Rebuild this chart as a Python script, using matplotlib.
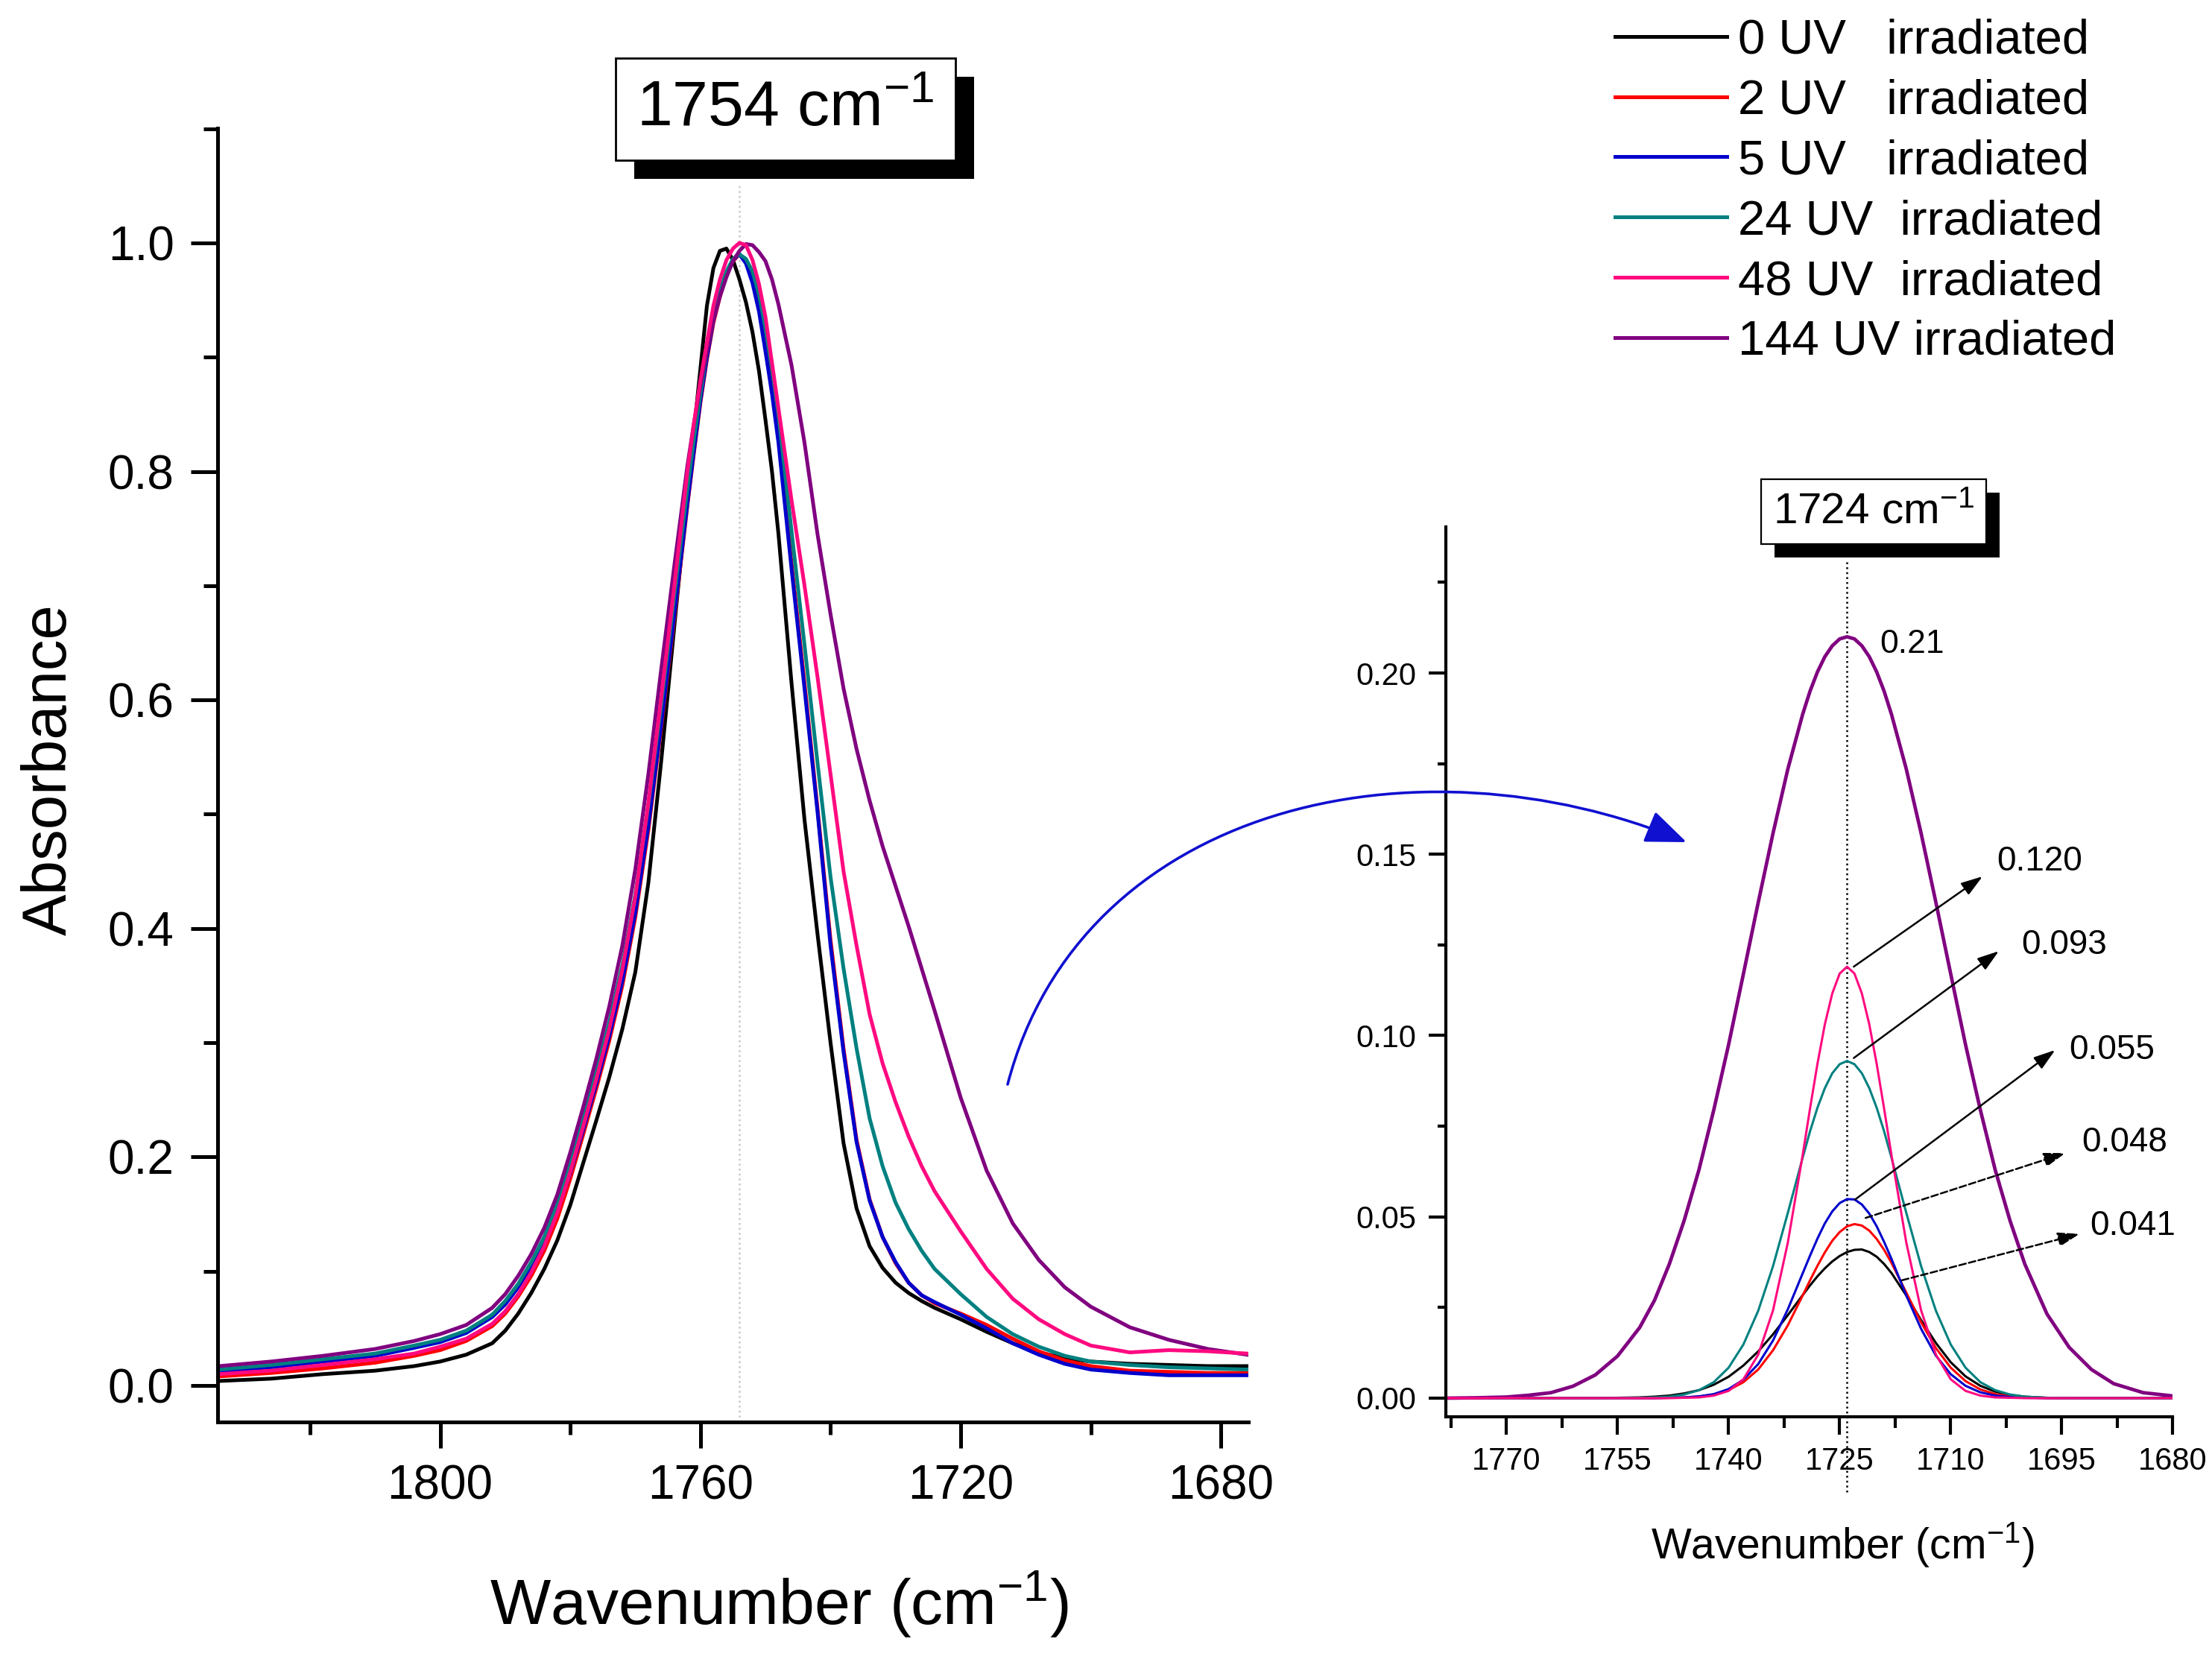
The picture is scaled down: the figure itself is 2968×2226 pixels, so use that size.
import matplotlib
matplotlib.use('Agg')
import matplotlib.pyplot as plt
import matplotlib.patheffects as pe
from matplotlib.patches import FancyArrowPatch
from matplotlib.path import Path
from matplotlib.ticker import MultipleLocator, FormatStrFormatter

plt.rcParams['font.family'] = ['Liberation Sans', 'DejaVu Sans']
plt.rcParams['mathtext.default'] = 'regular'

# series labels and colours
labels = ['0 UV   irradiated', '2 UV   irradiated', '5 UV   irradiated',
          '24 UV  irradiated', '48 UV  irradiated', '144 UV irradiated']
colors = ['#000000', '#ff0000', '#0000cc', '#008080', '#ff0a80', '#800080']

# full carbonyl band, normalised absorbance (left panel)
wn_full = [1834, 1826, 1818, 1810, 1804, 1800, 1796,
           1792, 1790, 1788, 1786, 1784, 1782, 1780, 1778, 1776, 1774, 1772, 1770, 1768, 1766, 1764,
           1762, 1761, 1760, 1759, 1758, 1757, 1756, 1755, 1754, 1753, 1752, 1751, 1750, 1749, 1748,
           1746, 1744, 1742, 1740, 1738, 1736, 1734, 1732, 1730, 1728, 1726, 1724,
           1720, 1716, 1712, 1708, 1704, 1700, 1694, 1688, 1682, 1676]
full_0uv = [0.004, 0.006, 0.010, 0.013, 0.017, 0.021, 0.027,
            0.037, 0.048, 0.063, 0.081, 0.102, 0.127, 0.158, 0.195, 0.232, 0.270, 0.312, 0.362, 0.440, 0.548, 0.665,
            0.780, 0.835, 0.890, 0.945, 0.978, 0.993, 0.995, 0.985, 0.968, 0.948, 0.922, 0.888, 0.845, 0.800, 0.745,
            0.615, 0.495, 0.395, 0.300, 0.212, 0.155, 0.122, 0.103, 0.090, 0.081, 0.074, 0.068,
            0.058, 0.047, 0.037, 0.029, 0.024, 0.021, 0.019, 0.018, 0.017, 0.017]
full_2uv = [0.008, 0.011, 0.015, 0.020, 0.026, 0.031, 0.039,
            0.052, 0.063, 0.078, 0.096, 0.118, 0.146, 0.181, 0.220, 0.260, 0.302, 0.350, 0.410, 0.486, 0.577, 0.672,
            0.770, 0.816, 0.860, 0.898, 0.930, 0.953, 0.972, 0.984, 0.990, 0.983, 0.968, 0.943, 0.910, 0.872, 0.830,
            0.720, 0.615, 0.505, 0.390, 0.295, 0.215, 0.163, 0.130, 0.107, 0.090, 0.079, 0.072,
            0.063, 0.053, 0.041, 0.030, 0.022, 0.017, 0.013, 0.012, 0.011, 0.011]
full_5uv = [0.0125, 0.016, 0.021, 0.026, 0.033, 0.038, 0.046,
            0.060, 0.071, 0.086, 0.104, 0.126, 0.153, 0.186, 0.224, 0.264, 0.306, 0.354, 0.414, 0.490, 0.580, 0.675,
            0.772, 0.818, 0.862, 0.900, 0.932, 0.955, 0.973, 0.985, 0.990, 0.982, 0.965, 0.940, 0.905, 0.868, 0.825,
            0.715, 0.610, 0.502, 0.385, 0.292, 0.213, 0.162, 0.130, 0.108, 0.090, 0.079, 0.073,
            0.062, 0.050, 0.037, 0.027, 0.019, 0.014, 0.011, 0.009, 0.009, 0.009]
full_24uv = [0.014, 0.018, 0.023, 0.028, 0.035, 0.040, 0.048,
             0.062, 0.074, 0.089, 0.108, 0.130, 0.159, 0.194, 0.233, 0.275, 0.318, 0.368, 0.430, 0.508, 0.597, 0.692,
             0.785, 0.828, 0.868, 0.905, 0.935, 0.958, 0.975, 0.986, 0.990, 0.986, 0.975, 0.955, 0.925, 0.890, 0.850,
             0.748, 0.648, 0.545, 0.445, 0.365, 0.295, 0.234, 0.192, 0.160, 0.137, 0.118, 0.102,
             0.080, 0.060, 0.045, 0.034, 0.026, 0.021, 0.018, 0.016, 0.015, 0.014]
full_48uv = [0.010, 0.013, 0.018, 0.023, 0.028, 0.034, 0.041,
             0.054, 0.065, 0.080, 0.099, 0.122, 0.151, 0.187, 0.227, 0.268, 0.312, 0.364, 0.428, 0.510, 0.603, 0.700,
             0.800, 0.842, 0.880, 0.913, 0.945, 0.968, 0.985, 0.995, 1.000, 0.998, 0.985, 0.964, 0.935, 0.895, 0.855,
             0.775, 0.700, 0.620, 0.535, 0.450, 0.385, 0.325, 0.282, 0.248, 0.218, 0.192, 0.170,
             0.135, 0.102, 0.076, 0.058, 0.045, 0.035, 0.029, 0.031, 0.030, 0.028]
full_144uv = [0.017, 0.021, 0.026, 0.032, 0.039, 0.045, 0.053,
              0.068, 0.080, 0.096, 0.115, 0.138, 0.167, 0.204, 0.244, 0.286, 0.332, 0.385, 0.452, 0.535, 0.628, 0.718,
              0.805, 0.842, 0.875, 0.905, 0.932, 0.953, 0.970, 0.984, 0.993, 0.999, 0.998, 0.992, 0.984, 0.968, 0.946,
              0.893, 0.825, 0.745, 0.675, 0.610, 0.557, 0.512, 0.472, 0.437, 0.402, 0.365, 0.328,
              0.252, 0.188, 0.142, 0.110, 0.086, 0.069, 0.051, 0.040, 0.032, 0.027]

# deconvoluted 1724 cm-1 component (right panel)
wn_band = [1778, 1774, 1770, 1767, 1764, 1761, 1758, 1755,
           1752, 1750, 1748, 1746, 1744, 1742, 1740, 1738, 1736, 1734, 1732, 1730,
           1729, 1728, 1727, 1726, 1725, 1724, 1723, 1722, 1721, 1720, 1719, 1718,
           1716, 1714, 1712, 1710, 1708, 1706, 1704, 1702, 1700,
           1697, 1694, 1691, 1688, 1684, 1680]
band_0uv = [0, 0, 0, 0, 0, 0, 0, 0.0001,
            0.0002, 0.0004, 0.0007, 0.0013, 0.0022, 0.0037, 0.0059, 0.0090, 0.0129, 0.0176, 0.0229, 0.0284,
            0.0311, 0.0336, 0.0358, 0.0377, 0.0392, 0.0403, 0.0409, 0.0410, 0.0403, 0.0390, 0.0370, 0.0345,
            0.0283, 0.0215, 0.0152, 0.0099, 0.0060, 0.0034, 0.0018, 0.0009, 0.0004,
            0.0001, 0, 0, 0, 0, 0]
band_2uv = [0, 0, 0, 0, 0, 0, 0, 0,
            0, 0, 0.0001, 0.0002, 0.0004, 0.0010, 0.0022, 0.0044, 0.0079, 0.0132, 0.0201, 0.0283,
            0.0325, 0.0365, 0.0402, 0.0434, 0.0458, 0.0474, 0.0480, 0.0476, 0.0462, 0.0439, 0.0409, 0.0373,
            0.0291, 0.0209, 0.0138, 0.0084, 0.0047, 0.0024, 0.0011, 0.0005, 0.0002,
            0, 0, 0, 0, 0, 0]
band_5uv = [0, 0, 0, 0, 0, 0, 0, 0,
            0, 0, 0.0001, 0.0002, 0.0005, 0.0011, 0.0025, 0.0051, 0.0094, 0.0159, 0.0245, 0.0344,
            0.0393, 0.0440, 0.0482, 0.0515, 0.0538, 0.0549, 0.0548, 0.0534, 0.0509, 0.0474, 0.0431, 0.0384,
            0.0283, 0.0191, 0.0117, 0.0066, 0.0034, 0.0016, 0.0007, 0.0003, 0.0001,
            0, 0, 0, 0, 0, 0]
band_24uv = [0, 0, 0, 0, 0, 0, 0, 0,
             0.0001, 0.0002, 0.0004, 0.0010, 0.0022, 0.0044, 0.0084, 0.0148, 0.0241, 0.0364, 0.0511, 0.0663,
             0.0736, 0.0801, 0.0855, 0.0896, 0.0921, 0.0930, 0.0921, 0.0896, 0.0855, 0.0801, 0.0736, 0.0663,
             0.0511, 0.0364, 0.0241, 0.0148, 0.0084, 0.0044, 0.0022, 0.0010, 0.0004,
             0.0001, 0, 0, 0, 0, 0]
band_48uv = [0, 0, 0, 0, 0, 0, 0, 0,
             0, 0, 0, 0.0001, 0.0002, 0.0007, 0.0020, 0.0052, 0.0120, 0.0242, 0.0429, 0.0670,
             0.0799, 0.0922, 0.1031, 0.1116, 0.1171, 0.1190, 0.1171, 0.1116, 0.1031, 0.0922, 0.0799, 0.0670,
             0.0429, 0.0242, 0.0120, 0.0052, 0.0020, 0.0007, 0.0002, 0.0001, 0,
             0, 0, 0, 0, 0, 0]
band_144uv = [0, 0.0001, 0.0003, 0.0008, 0.0015, 0.0033, 0.0064, 0.0116,
              0.0195, 0.0270, 0.0370, 0.0490, 0.0630, 0.0795, 0.0975, 0.1170, 0.1367, 0.1558, 0.1735, 0.1886,
              0.1950, 0.2003, 0.2045, 0.2075, 0.2094, 0.2100, 0.2094, 0.2075, 0.2045, 0.2003, 0.1950, 0.1886,
              0.1735, 0.1558, 0.1367, 0.1170, 0.0975, 0.0795, 0.0630, 0.0490, 0.0370,
              0.0232, 0.0140, 0.0079, 0.0040, 0.0015, 0.0006]

# peak heights marked with arrows on the inset
peak_labels = ['0.120', '0.093', '0.055', '0.048', '0.041']
arrow_start = [(1723.1, 0.119), (1723.1, 0.0938), (1722.9, 0.0548), (1721.5, 0.0497), (1716.6, 0.0325)]
arrow_end = [(1705.7, 0.1439), (1703.5, 0.1233), (1695.9, 0.0960), (1694.5, 0.0676), (1692.6, 0.0453)]
label_pos = [(1703.8, 0.148), (1700.5, 0.125), (1694.0, 0.096), (1692.3, 0.0705), (1691.2, 0.0475)]
dashed = [False, False, False, True, True]

full_series = [full_0uv, full_2uv, full_5uv, full_24uv, full_48uv, full_144uv]
band_series = [band_0uv, band_2uv, band_5uv, band_24uv, band_48uv, band_144uv]
draw_order = [0, 1, 2, 3, 5, 4]

fig = plt.figure(figsize=(14.84, 11.13), dpi=200)
ax1 = fig.add_axes([0.0984, 0.1430, 0.4659, 0.7799])
ax2 = fig.add_axes([0.6536, 0.1461, 0.3287, 0.5363])

handles = [None] * 6
for i in draw_order:
    handles[i], = ax1.plot(wn_full, full_series[i], color=colors[i], lw=1.8)
    ax2.plot(wn_band, band_series[i], color=colors[i], lw=1.7 if i == 5 else 1.1)

ax1.plot([1754, 1754], [-0.0317, 1.052], color='#c8c8c8', lw=0.9, ls=':', clip_on=False, zorder=0)
ax2.plot([1724, 1724], [-0.026, 0.2306], color='black', lw=0.9, ls=':', clip_on=False, zorder=0)

for ax in (ax1, ax2):
    ax.spines['top'].set_visible(False)
    ax.spines['right'].set_visible(False)

ax1.set_xlim(1834.2, 1675.8)
ax1.set_ylim(-0.0317, 1.1006)
ax1.xaxis.set_major_locator(MultipleLocator(40))
ax1.xaxis.set_minor_locator(MultipleLocator(20))
ax1.yaxis.set_major_locator(MultipleLocator(0.2))
ax1.yaxis.set_minor_locator(MultipleLocator(0.1))
ax1.yaxis.set_major_formatter(FormatStrFormatter('%.1f'))
for s in ('left', 'bottom'):
    ax1.spines[s].set_linewidth(1.8)
ax1.tick_params(axis='both', which='both', direction='out', width=1.8, labelsize=23)
ax1.tick_params(axis='x', which='major', length=12.5, pad=8)
ax1.tick_params(axis='x', which='minor', length=6)
ax1.tick_params(axis='y', which='major', length=13, pad=8)
ax1.tick_params(axis='y', which='minor', length=7)
ax1.set_xlabel('Wavenumber (cm$^{-1}$)', fontsize=31)
ax1.xaxis.set_label_coords(0.5446, -0.1137)
ax1.set_ylabel('Absorbance', fontsize=30)
ax1.yaxis.set_label_coords(-0.135, 0.504)

ax2.set_xlim(1778.2, 1680)
ax2.set_ylim(-0.0051, 0.2403)
ax2.xaxis.set_major_locator(MultipleLocator(15))
ax2.xaxis.set_minor_locator(MultipleLocator(7.5))
ax2.yaxis.set_major_locator(MultipleLocator(0.05))
ax2.yaxis.set_minor_locator(MultipleLocator(0.025))
ax2.yaxis.set_major_formatter(FormatStrFormatter('%.2f'))
for s in ('left', 'bottom'):
    ax2.spines[s].set_linewidth(1.5)
ax2.tick_params(axis='both', which='both', direction='out', width=1.5, labelsize=15)
ax2.tick_params(axis='x', which='major', length=8.5, pad=6)
ax2.tick_params(axis='x', which='minor', length=5.5)
ax2.tick_params(axis='y', which='major', length=8.4, pad=6)
ax2.tick_params(axis='y', which='minor', length=4)
ax2.set_xlabel('Wavenumber (cm$^{-1}$)', fontsize=20.5)
ax2.xaxis.set_label_coords(0.546, -0.117)

# peak value labels on the inset
ax2.text(1719.6, 0.208, '0.21', fontsize=16, ha='left', va='center')
for lab, st, en, pos, dsh in zip(peak_labels, arrow_start, arrow_end, label_pos, dashed):
    ax2.annotate('', xy=en, xytext=st,
                 arrowprops=dict(arrowstyle='-|>,head_length=0.55,head_width=0.18', color='black',
                                 lw=0.9, ls='--' if dsh else '-', shrinkA=0, shrinkB=0,
                                 mutation_scale=16))
    ax2.text(pos[0], pos[1], lab, fontsize=16.5, ha='left', va='center')

# boxed band positions with drop shadow
t1 = fig.text(0.355, 0.934, '1754 cm$^{-1}$', fontsize=31, ha='center', va='center',
              bbox=dict(boxstyle='square,pad=0.33', fc='white', ec='black', lw=1.0))
t1.get_bbox_patch().set_path_effects([pe.SimplePatchShadow(offset=(9, -9), shadow_rgbFace='black', alpha=1.0),
                                      pe.Normal()])
t2 = fig.text(0.847, 0.6916, '1724 cm$^{-1}$', fontsize=21, ha='center', va='center',
              bbox=dict(boxstyle='square,pad=0.28', fc='white', ec='black', lw=0.8))
t2.get_bbox_patch().set_path_effects([pe.SimplePatchShadow(offset=(6.5, -6.5), shadow_rgbFace='black', alpha=1.0),
                                      pe.Normal()])

# curved blue arrow from main band to inset
W, H = 2968.0, 2226.0
pts = [(1352, 1455), (1450, 1080), (1900, 980), (2263, 1130)]
verts = [(x / W, 1 - y / H) for x, y in pts]
arc = FancyArrowPatch(path=Path(verts, [Path.MOVETO, Path.CURVE4, Path.CURVE4, Path.CURVE4]),
                      arrowstyle='-|>,head_length=0.45,head_width=0.18', mutation_scale=38,
                      color='#1010d0', lw=1.3, transform=fig.transFigure)
fig.add_artist(arc)

fig.legend(handles, labels, loc='upper left', bbox_to_anchor=(0.730, 0.989), frameon=False,
           fontsize=23.5, handlelength=2.31, handletextpad=0.23, labelspacing=0.32,
           borderpad=0, borderaxespad=0)

fig.savefig('out.png', dpi=200)
